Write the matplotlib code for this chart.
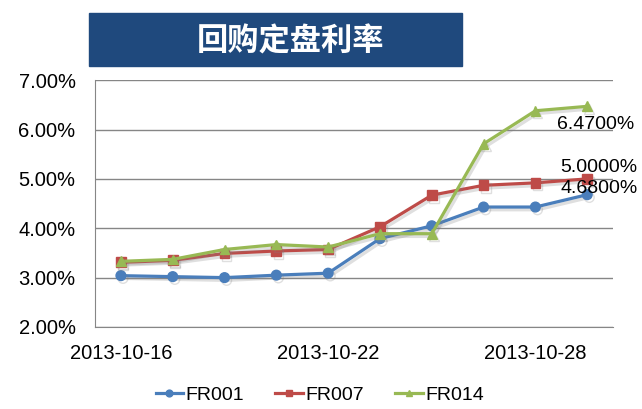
import matplotlib.pyplot as plt
import matplotlib.patheffects as pe
from matplotlib.patches import Rectangle

plt.rcParams['font.family'] = ['Liberation Sans', 'DejaVu Sans']

dates = ["2013-10-16", "2013-10-17", "2013-10-18", "2013-10-21", "2013-10-22",
         "2013-10-23", "2013-10-24", "2013-10-25", "2013-10-28", "2013-10-29"]
fr001 = [3.04, 3.02, 3.00, 3.05, 3.09, 3.79, 4.05, 4.43, 4.43, 4.68]
fr007 = [3.31, 3.35, 3.49, 3.54, 3.57, 4.03, 4.67, 4.87, 4.92, 5.00]
fr014 = [3.33, 3.37, 3.57, 3.67, 3.62, 3.89, 3.89, 5.71, 6.38, 6.47]

fig = plt.figure(figsize=(6.42, 4.09), dpi=100)
ax = fig.add_axes([0.148, 0.2005, 0.807, 0.6035])

shadow = [pe.SimpleLineShadow(offset=(1.5, -2), alpha=0.25, shadow_color='gray'), pe.Normal()]
x = range(len(dates))
ax.plot(x, fr001, color='#4a7ebb', marker='o', markersize=7, lw=2.3, label='FR001', path_effects=shadow)
ax.plot(x, fr007, color='#be4b48', marker='s', markersize=7, lw=2.3, label='FR007', path_effects=shadow)
ax.plot(x, fr014, color='#98b954', marker='^', markersize=7, lw=2.3, label='FR014', path_effects=shadow)

ax.set_xlim(-0.5, len(dates) - 0.5)
ax.set_ylim(2, 7)
ax.set_yticks([2, 3, 4, 5, 6, 7])
ax.set_yticklabels([f"{v:.2f}%" for v in [2, 3, 4, 5, 6, 7]], fontsize=14.5)
ax.set_xticks([0, 4, 8])
ax.set_xticklabels([dates[0], dates[4], dates[8]], fontsize=14.5)
ax.tick_params(length=0)
ax.tick_params(axis='x', pad=12)
ax.tick_params(axis='y', pad=14)
ax.grid(axis='y', color='#868686', lw=1)
for s in ['top', 'right']:
    ax.spines[s].set_visible(False)
for s in ['left', 'bottom']:
    ax.spines[s].set_color('#868686')

# labels on last points
ax.annotate(f"{fr014[-1]:.4f}%", (9, fr014[-1]), xytext=(-21.5, -16.5), textcoords='offset points',
            fontsize=14, va='baseline', ha='left')
ax.annotate(f"{fr007[-1]:.4f}%", (9, fr007[-1]), xytext=(-19.5, 5), textcoords='offset points',
            fontsize=14, va='baseline', ha='left')
ax.annotate(f"{fr001[-1]:.4f}%", (9, fr001[-1]), xytext=(-19.5, 1.5), textcoords='offset points',
            fontsize=14, va='baseline', ha='left')

leg = ax.legend(loc='center', bbox_to_anchor=(0.434, -0.275), ncol=3, frameon=False,
                fontsize=14, handlelength=1.4, handletextpad=0.15, columnspacing=1.6,
                markerscale=0.7)
for h in leg.get_lines():
    h.set_path_effects([])

# title box
fig.patches.append(Rectangle((89 / 642, 1 - 66 / 409), 373 / 642, 53 / 409,
                             transform=fig.transFigure, color='#1f497d', zorder=0))
fig.text(291 / 642, 1 - 41 / 409, "回购定盘利率", color='white', fontsize=22.5, fontweight='bold',
         ha='center', va='center', family=['Noto Sans CJK SC', 'DejaVu Sans'])

fig.savefig('out.png', dpi=100)
